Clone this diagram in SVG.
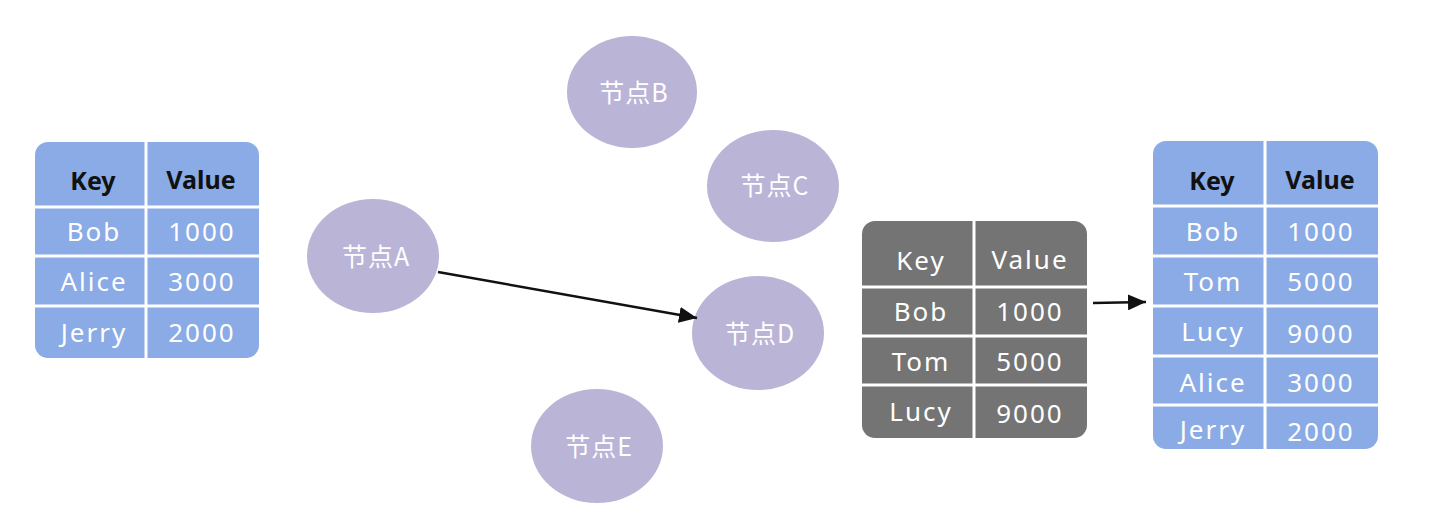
<svg xmlns="http://www.w3.org/2000/svg" width="1452" height="514" viewBox="0 0 1452 514">
<defs>
<style>
.blue{fill:#8aabe6}
.gray{fill:#747474}
.sep{stroke:#ffffff;stroke-width:3}
.node{fill:#bab4d7}
.hd{font-family:"Noto Sans","Noto Sans CJK SC",sans-serif;font-size:25px;font-weight:bold;text-anchor:middle}
.cell{font-family:"Noto Sans","Noto Sans CJK SC",sans-serif;font-size:26px;fill:#ffffff;text-anchor:middle;letter-spacing:2px}
.nl{font-family:"Noto Sans CJK SC",sans-serif;font-size:25px;fill:#ffffff;text-anchor:middle;letter-spacing:1px}
.conn{stroke:#111111;stroke-width:2.5;fill:none}
</style>
<marker id="arr" viewBox="0 0 18 16" refX="18" refY="8" markerWidth="18" markerHeight="16" markerUnits="userSpaceOnUse" orient="auto">
<path d="M0,0 L18,8 L0,16 z" fill="#111111"/>
</marker>
</defs>

<g id="table-left">
<rect class="blue" x="35" y="142" width="224" height="216" rx="13"/>
<line class="sep" x1="146" y1="142" x2="146" y2="358"/>
<line class="sep" x1="35" y1="207" x2="259" y2="207"/>
<line class="sep" x1="35" y1="256" x2="259" y2="256"/>
<line class="sep" x1="35" y1="306" x2="259" y2="306"/>
<text class="hd" x="93" y="190" fill="#111111">Key</text>
<text class="hd" x="201" y="189" fill="#111111">Value</text>
<text class="cell" x="94" y="241">Bob</text>
<text class="cell" x="202" y="241">1000</text>
<text class="cell" x="94" y="291">Alice</text>
<text class="cell" x="202" y="291">3000</text>
<text class="cell" x="94" y="342">Jerry</text>
<text class="cell" x="202" y="342">2000</text>
</g>

<g id="nodeA"><ellipse class="node" cx="373" cy="256" rx="66" ry="57"/><text class="nl" x="376" y="266">节点A</text></g>
<g id="nodeB"><ellipse class="node" cx="632" cy="92" rx="65" ry="56"/><text class="nl" x="634" y="102">节点B</text></g>
<g id="nodeC"><ellipse class="node" cx="773" cy="186" rx="66" ry="56"/><text class="nl" x="775" y="195">节点C</text></g>
<g id="nodeD"><ellipse class="node" cx="758" cy="333" rx="66" ry="57"/><text class="nl" x="760" y="343">节点D</text></g>
<g id="nodeE"><ellipse class="node" cx="597" cy="446" rx="66" ry="57"/><text class="nl" x="599" y="456">节点E</text></g>

<g id="table-gray">
<rect class="gray" x="862" y="221" width="225" height="217" rx="13"/>
<line class="sep" x1="974" y1="221" x2="974" y2="438"/>
<line class="sep" x1="862" y1="287" x2="1087" y2="287"/>
<line class="sep" x1="862" y1="336" x2="1087" y2="336"/>
<line class="sep" x1="862" y1="385" x2="1087" y2="385"/>
<text class="cell" x="921" y="270">Key</text>
<text class="cell" x="1030" y="269">Value</text>
<text class="cell" x="921" y="321">Bob</text>
<text class="cell" x="1030" y="321">1000</text>
<text class="cell" x="921" y="371">Tom</text>
<text class="cell" x="1030" y="371">5000</text>
<text class="cell" x="921" y="421">Lucy</text>
<text class="cell" x="1030" y="423">9000</text>
</g>

<g id="table-right">
<rect class="blue" x="1153" y="141" width="225" height="308" rx="13"/>
<line class="sep" x1="1265" y1="141" x2="1265" y2="449"/>
<line class="sep" x1="1153" y1="206" x2="1378" y2="206"/>
<line class="sep" x1="1153" y1="256" x2="1378" y2="256"/>
<line class="sep" x1="1153" y1="306" x2="1378" y2="306"/>
<line class="sep" x1="1153" y1="356" x2="1378" y2="356"/>
<line class="sep" x1="1153" y1="405" x2="1378" y2="405"/>
<text class="hd" x="1212" y="190" fill="#111111">Key</text>
<text class="hd" x="1320" y="189" fill="#111111">Value</text>
<text class="cell" x="1213" y="241">Bob</text>
<text class="cell" x="1321" y="241">1000</text>
<text class="cell" x="1213" y="291">Tom</text>
<text class="cell" x="1321" y="291">5000</text>
<text class="cell" x="1213" y="341">Lucy</text>
<text class="cell" x="1321" y="343">9000</text>
<text class="cell" x="1213" y="392">Alice</text>
<text class="cell" x="1321" y="392">3000</text>
<text class="cell" x="1213" y="439">Jerry</text>
<text class="cell" x="1321" y="441">2000</text>
</g>

<g id="connectors">
<line class="conn" x1="438" y1="272" x2="697" y2="318" marker-end="url(#arr)"/>
<line class="conn" x1="1093" y1="303" x2="1146" y2="302" marker-end="url(#arr)"/>
</g>
</svg>
